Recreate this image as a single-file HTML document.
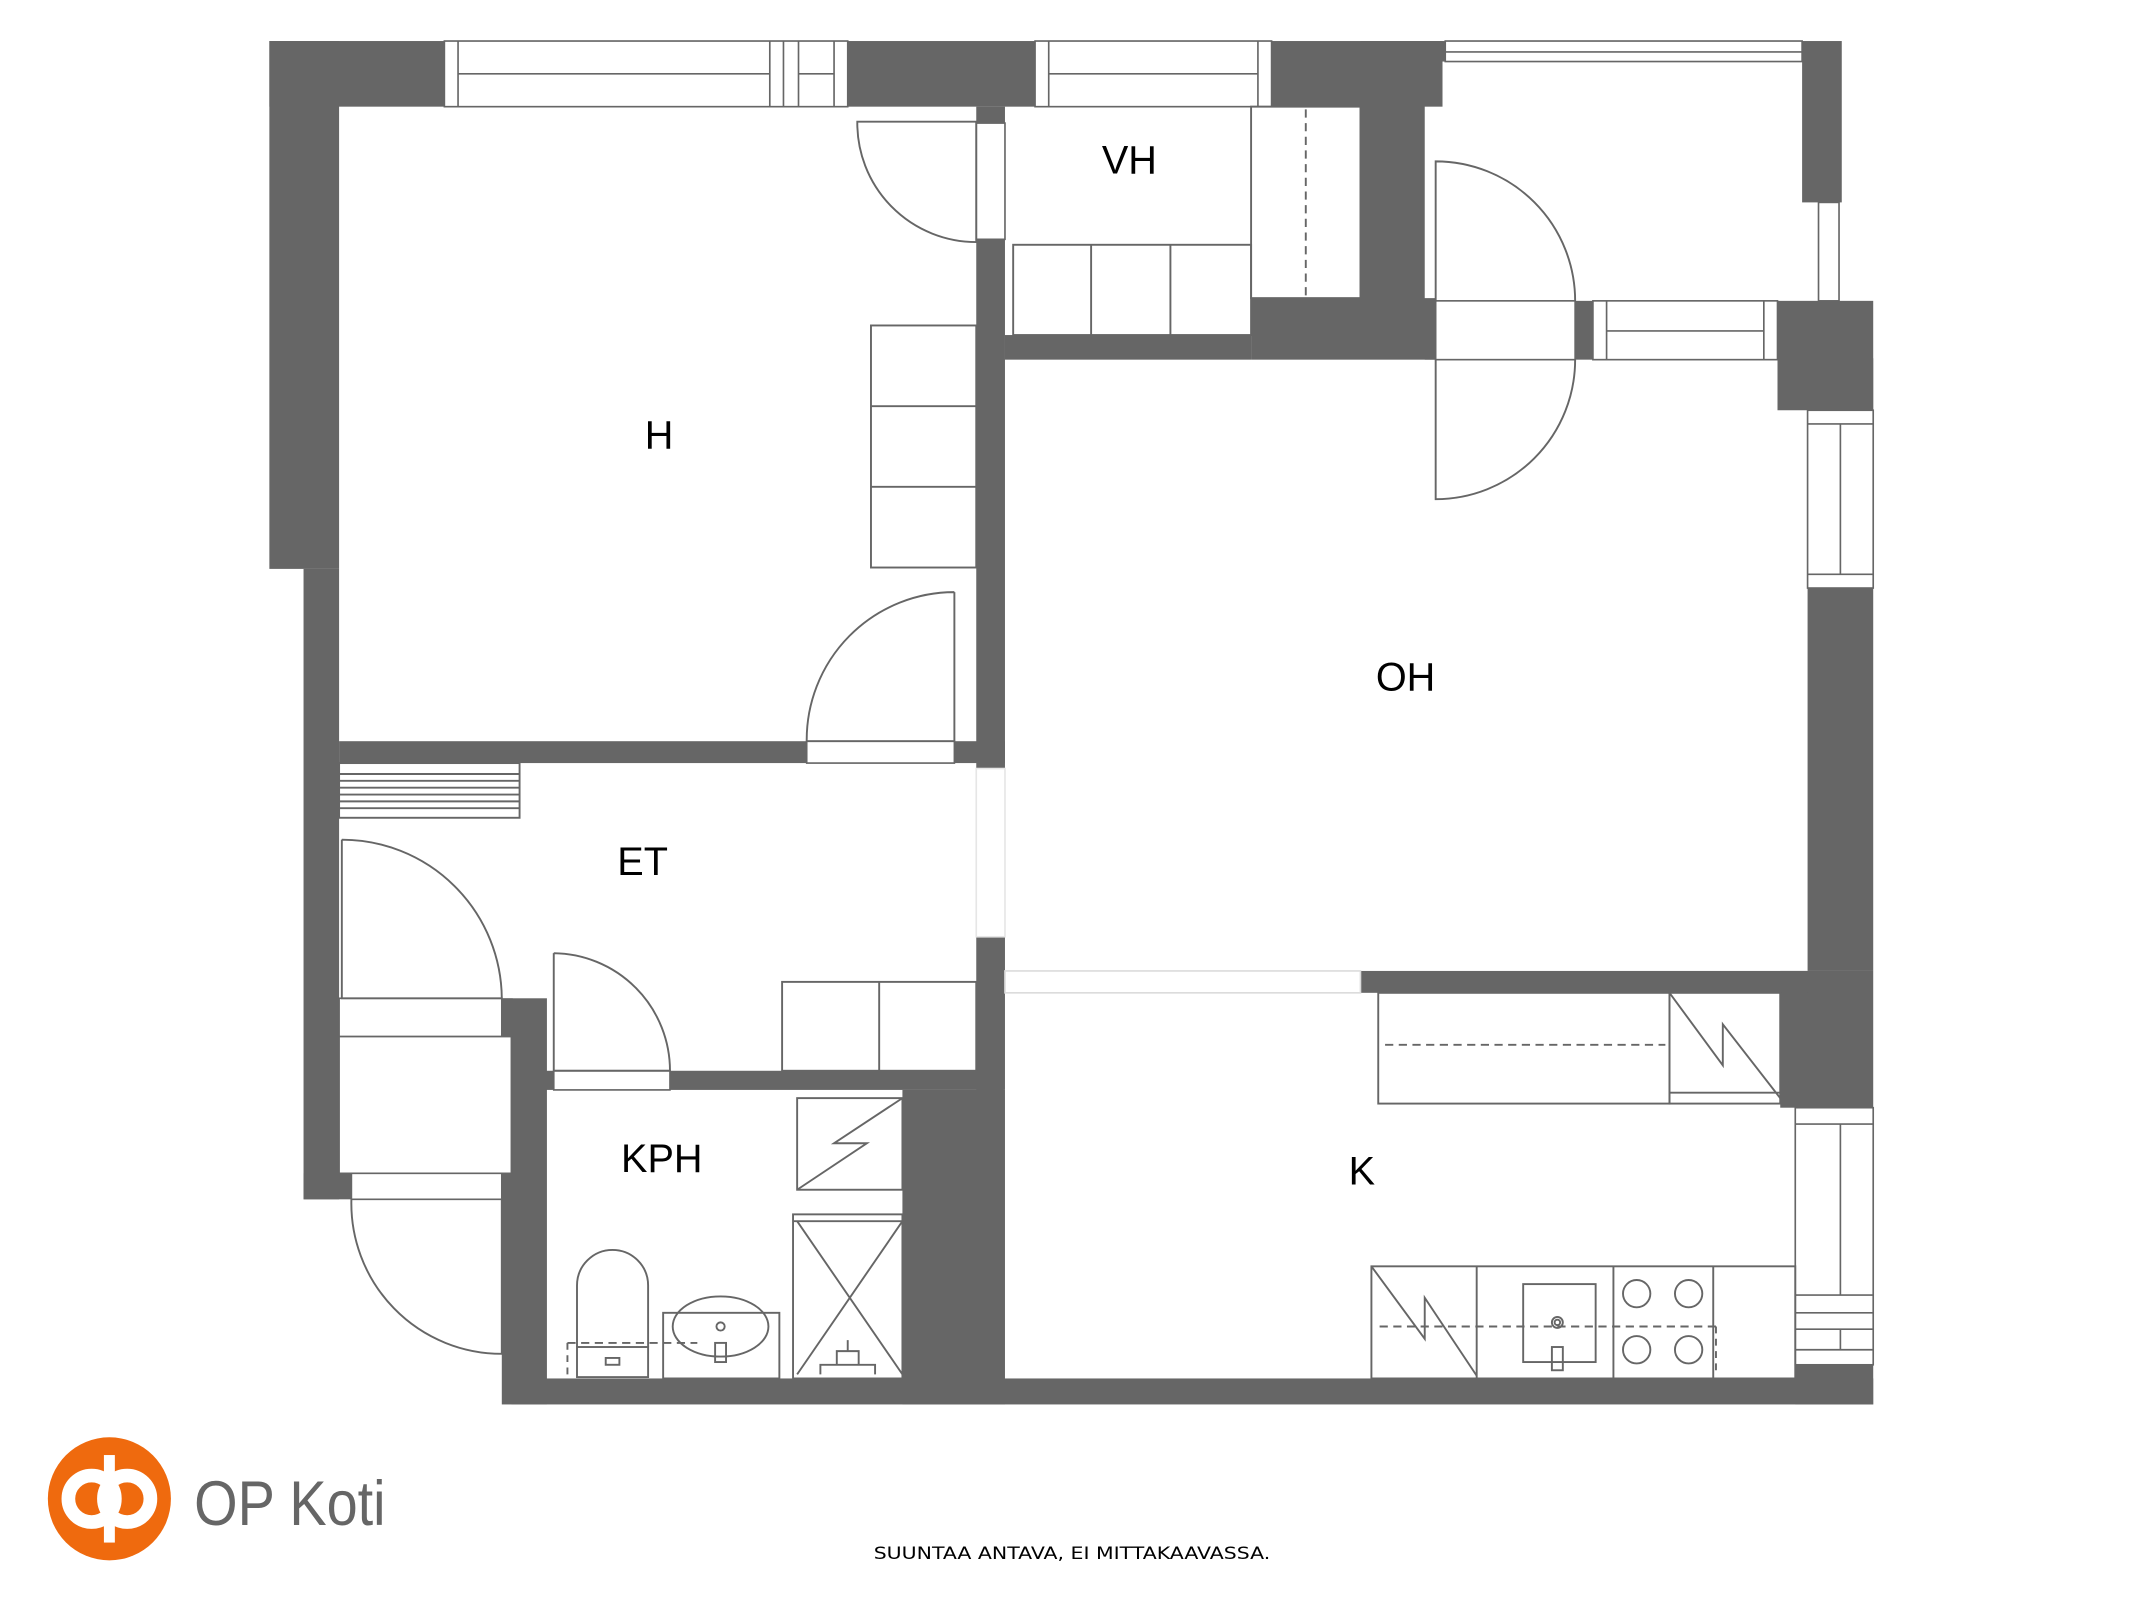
<!DOCTYPE html>
<html><head><meta charset="utf-8"><style>html,body{margin:0;padding:0;background:#fff}svg{display:block}</style></head>
<body>
<svg width="2133" height="1600" viewBox="0 0 1560 1170" preserveAspectRatio="none" xmlns="http://www.w3.org/2000/svg">
<g fill="#666" stroke="none">
<rect x="197" y="30" width="128" height="48"/>
<rect x="197" y="30" width="51" height="386"/>
<rect x="222" y="416" width="26" height="461"/>
<rect x="222" y="858" width="35" height="19"/>
<rect x="620" y="30" width="137" height="48"/>
<rect x="930" y="30" width="125" height="48"/>
<rect x="995" y="30" width="47" height="232"/>
<rect x="1042" y="30" width="15" height="15"/>
<rect x="1318" y="30" width="29" height="118"/>
<rect x="1042" y="220" width="8" height="43"/>
<rect x="1152" y="220" width="13" height="43"/>
<rect x="1300" y="220" width="70" height="80"/>
<rect x="1322" y="262" width="48" height="38"/>
<rect x="1322" y="430" width="48" height="280"/>
<rect x="1302" y="710" width="68" height="100"/>
<rect x="1313" y="998" width="57" height="29"/>
<rect x="374" y="1008" width="996" height="19"/>
<rect x="714" y="78" width="21" height="12"/>
<rect x="714" y="175" width="21" height="387"/>
<rect x="735" y="245" width="180" height="18"/>
<rect x="915" y="218" width="135" height="45"/>
<rect x="248" y="542" width="342" height="16"/>
<rect x="698" y="542" width="37" height="16"/>
<rect x="714" y="685" width="21" height="112"/>
<rect x="995" y="710" width="327" height="16"/>
<rect x="374" y="783" width="360" height="14"/>
<rect x="660" y="797" width="75" height="230"/>
<rect x="367" y="730" width="33" height="297"/>
<rect x="367" y="730" width="8" height="148"/>
</g>
<g fill="#fff" stroke="#666" stroke-width="1.2">
<rect x="325" y="30" width="295" height="48"/>
<line x1="335" y1="30" x2="335" y2="78"/><line x1="335" y1="54" x2="563" y2="54"/>
<line x1="563" y1="30" x2="563" y2="78"/><line x1="573" y1="30" x2="573" y2="78"/>
<line x1="584" y1="30" x2="584" y2="78"/><line x1="584" y1="54" x2="610" y2="54"/><line x1="610" y1="30" x2="610" y2="78"/>
<rect x="757" y="30" width="173" height="48"/>
<line x1="767" y1="30" x2="767" y2="78"/><line x1="767" y1="54" x2="920" y2="54"/><line x1="920" y1="30" x2="920" y2="78"/>
<rect x="1057" y="30" width="261" height="15"/><line x1="1057" y1="38" x2="1318" y2="38"/>
<rect x="1330" y="148" width="15" height="72"/>
<rect x="1165" y="220" width="135" height="43"/><line x1="1175" y1="220" x2="1175" y2="263"/><line x1="1175" y1="242" x2="1290" y2="242"/><line x1="1290" y1="220" x2="1290" y2="263"/>
<rect x="1322" y="300" width="48" height="130"/><line x1="1322" y1="310" x2="1370" y2="310"/><line x1="1346" y1="310" x2="1346" y2="420"/><line x1="1322" y1="420" x2="1370" y2="420"/>
<rect x="1313" y="810" width="57" height="188"/><line x1="1313" y1="822" x2="1370" y2="822"/><line x1="1346" y1="822" x2="1346" y2="947"/><line x1="1313" y1="947" x2="1370" y2="947"/><line x1="1313" y1="960" x2="1370" y2="960"/><line x1="1313" y1="972" x2="1370" y2="972"/><line x1="1346" y1="972" x2="1346" y2="987"/><line x1="1313" y1="987" x2="1370" y2="987"/>
<rect x="714" y="90" width="21" height="85"/>
<rect x="590" y="542" width="108" height="16"/>
<rect x="714" y="562" width="21" height="123" stroke="#e6e6e6"/>
<rect x="735" y="710" width="260" height="16" stroke="#dcdcdc"/>
<rect x="1050" y="220" width="102" height="43"/>
<rect x="248" y="730" width="119" height="28"/>
<rect x="248" y="758" width="126" height="100"/>
<rect x="257" y="858" width="110" height="19"/>
<rect x="405" y="783" width="85" height="14"/>
</g>
<g fill="none" stroke="#666" stroke-width="1.4">
<path d="M627 89 L714 89 L714 177 A87 87 0 0 1 627 89 Z"/>
<path d="M698 433 L698 542 L590 542 A108 108 0 0 1 698 433"/>
<path d="M1050 220 L1050 118 A102 102 0 0 1 1152 220"/>
<path d="M1050 263 L1050 365 A102 102 0 0 0 1152 263"/>
<path d="M250 614 L250 730 L367 730 A117 117 0 0 0 250 614"/>
<path d="M405 697 L405 783 L490 783 A86 86 0 0 0 405 697"/>
<path d="M367 877 L367 990 A110 110 0 0 1 257 877"/>
<rect x="637" y="238" width="77" height="177"/><line x1="637" y1="297" x2="714" y2="297"/><line x1="637" y1="356" x2="714" y2="356"/>
<rect x="741" y="179" width="174" height="66"/><line x1="798" y1="179" x2="798" y2="245"/><line x1="856" y1="179" x2="856" y2="245"/>
<rect x="915" y="78" width="80" height="140"/><line x1="955" y1="80" x2="955" y2="216" stroke-dasharray="6 4"/>
<rect x="572" y="718" width="142" height="65"/><line x1="643" y1="718" x2="643" y2="783"/>
<rect x="248" y="558" width="132" height="40"/>
<line x1="248" y1="566" x2="380" y2="566"/><line x1="248" y1="571" x2="380" y2="571"/><line x1="248" y1="576" x2="380" y2="576"/><line x1="248" y1="581" x2="380" y2="581"/><line x1="248" y1="586" x2="380" y2="586"/><line x1="248" y1="591" x2="380" y2="591"/>
<rect x="583" y="803" width="77" height="67"/><path d="M583 870 L634 836 L610 836 L660 803"/>
<rect x="580" y="888" width="80" height="120"/><line x1="580" y1="893" x2="660" y2="893"/><path d="M583 893 L660 1005 M660 893 L583 1005"/>
<path d="M422 985 L422 940 A25 25 0 0 1 474 940 L474 985"/>
<rect x="422" y="985" width="52" height="22"/><rect x="443" y="993" width="10" height="5"/>
<rect x="485" y="960" width="85" height="48"/><ellipse cx="527" cy="970" rx="35" ry="22"/><circle cx="527" cy="970" r="3"/><rect x="523" y="982" width="8" height="14"/>
<line x1="415" y1="982" x2="510" y2="982" stroke-dasharray="6 4"/><line x1="415" y1="982" x2="415" y2="1005" stroke-dasharray="5 4"/>
<path d="M600 1005 L600 998 L640 998 L640 1005 M612 998 L612 988 L628 988 L628 998 M620 988 L620 980"/>
<rect x="1008" y="726" width="213" height="81"/><line x1="1013" y1="764" x2="1218" y2="764" stroke-dasharray="6 4"/>
<rect x="1221" y="726" width="81" height="81"/><path d="M1221 726 L1260 779 L1260 749 L1302 803"/><line x1="1221" y1="799" x2="1302" y2="799"/>
<rect x="1003" y="926" width="310" height="82"/>
<line x1="1080" y1="926" x2="1080" y2="1008"/><line x1="1180" y1="926" x2="1180" y2="1008"/><line x1="1253" y1="926" x2="1253" y2="1008"/>
<path d="M1003 926 L1042 979 L1042 949 L1080 1006"/>
<rect x="1114" y="939" width="53" height="57"/><circle cx="1139" cy="967" r="4"/><circle cx="1139" cy="967" r="2"/><rect x="1135" y="985" width="8" height="17"/>
<circle cx="1197" cy="946" r="10"/><circle cx="1235" cy="946" r="10"/><circle cx="1197" cy="987" r="10"/><circle cx="1235" cy="987" r="10"/>
<line x1="1009" y1="970" x2="1255" y2="970" stroke-dasharray="6 4"/><line x1="1255" y1="970" x2="1255" y2="1005" stroke-dasharray="5 4"/>
</g>
<g font-family="Liberation Sans, sans-serif" font-size="29" fill="#000" text-anchor="middle">
<text x="482" y="328">H</text>
<text x="826" y="127">VH</text>
<text x="1028" y="505">OH</text>
<text x="470" y="640">ET</text>
<text x="484" y="857">KPH</text>
<text x="996" y="866">K</text>
</g>
<text x="639" y="1140" font-family="DejaVu Sans, sans-serif" font-size="12.5" fill="#000" textLength="290" lengthAdjust="spacingAndGlyphs">SUUNTAA ANTAVA, EI MITTAKAAVASSA.</text>
<circle cx="80" cy="1096" r="45" fill="#ef6a0e"/>
<circle cx="67" cy="1096" r="17" fill="none" stroke="#fff" stroke-width="10"/>
<circle cx="93" cy="1096" r="17" fill="none" stroke="#fff" stroke-width="10"/>
<rect x="76" y="1064" width="8" height="64" fill="#fff"/>
<text x="142" y="1115" font-family="Liberation Sans, sans-serif" font-size="46" fill="#666" textLength="140" lengthAdjust="spacingAndGlyphs">OP Koti</text>
</svg>
</body></html>
